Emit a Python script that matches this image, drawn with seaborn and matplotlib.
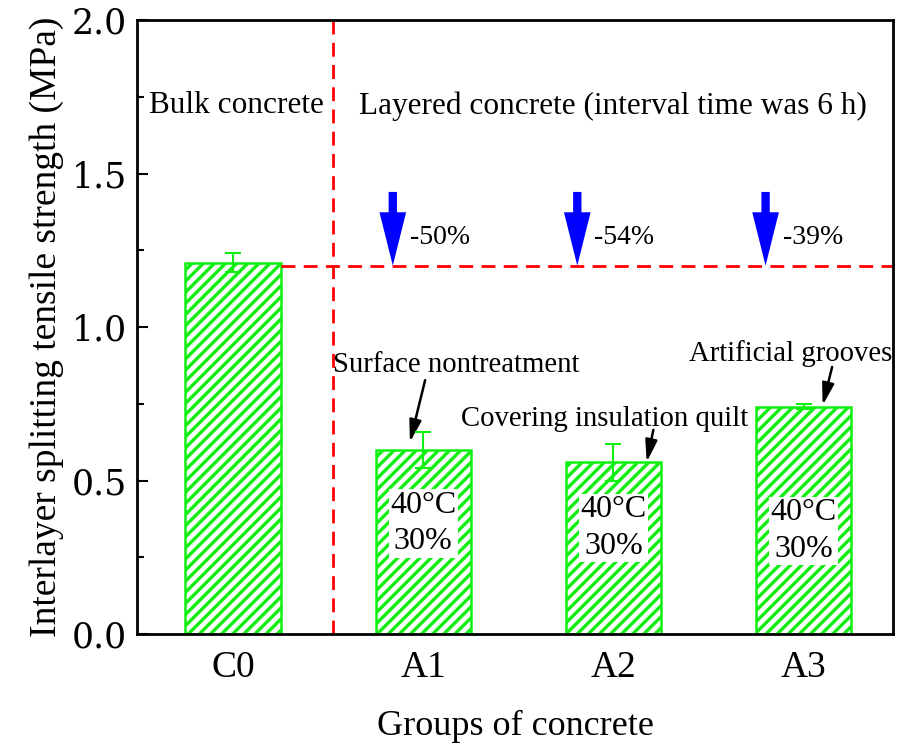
import matplotlib
matplotlib.use("Agg")
import matplotlib.pyplot as plt
import seaborn as sns
import pandas as pd
import numpy as np
from matplotlib.ticker import MultipleLocator

groups = ["C0", "A1", "A2", "A3"]
strength = [1.21, 0.60, 0.56, 0.74]
errors = [0.03, 0.058, 0.06, 0.008]
reductions = ["-50%", "-54%", "-39%"]
treatments = ["Surface nontreatment", "Covering insulation quilt", "Artificial grooves"]
condition = "40\u00b0C\n30%"
ref_value = 1.20

sns.set_theme(style="white")
plt.rcParams['font.family'] = ['Liberation Serif', 'DejaVu Serif']
plt.rcParams['text.color'] = 'black'
plt.rcParams['axes.labelcolor'] = 'black'
plt.rcParams['xtick.color'] = 'black'
plt.rcParams['ytick.color'] = 'black'
green = '#11ee11'
plt.rcParams['hatch.linewidth'] = 2.4
plt.rcParams['hatch.color'] = green

df = pd.DataFrame({"group": groups, "strength": strength})

fig = plt.figure(figsize=(8.98, 7.49), dpi=100)
ax = fig.add_axes([137/898, 1-634/749, (893-137)/898, (634-20)/749])

sns.barplot(data=df, x="group", y="strength", ax=ax, color="white", width=0.5,
            errorbar=None, edgecolor=green, linewidth=1.8)
for p in ax.patches:
    p.set_hatch('///')
    p.set_facecolor('white')
    p.set_edgecolor(green)

xs = np.arange(len(groups))
ax.errorbar(xs, strength, yerr=errors, fmt='none', ecolor=green, elinewidth=1.5,
            capsize=6, capthick=1.5, zorder=5)

ax.set_xlim(-0.505, 3.47)
ax.set_ylim(0, 2.0)

# reference lines
ax.axvline(0.525, color='red', ls=(0, (5, 3)), lw=2, zorder=1)
ax.plot([0.25, 3.47], [ref_value, ref_value], color='red', ls=(0, (5, 3)), lw=2, zorder=1)

# region labels
ax.text(-0.44, 1.72, "Bulk concrete", fontsize=22.5, va='center', ha='left')
ax.text(2.0, 1.72, "Layered concrete (interval time was 6 h)", fontsize=22.5, va='center', ha='center')

# reduction arrows
arrow_x = [0.84, 1.81, 2.80]
for xa, lab in zip(arrow_x, reductions):
    ax.annotate("", xy=(xa, ref_value), xytext=(xa, 1.44),
                arrowprops=dict(arrowstyle='simple,head_length=3.2,head_width=1.6,tail_width=0.5',
                                color='blue', lw=0, shrinkA=0, shrinkB=0))
    ax.text(xa + 0.09, 1.29, lab, fontsize=20, ha='left', va='center')

# treatment annotations
ann_text = [(0.525, 0.876, 'left'), (1.2, 0.70, 'left'), (2.40, 0.915, 'left')]
ann_arrow = [((1.01, 0.827), (0.93, 0.625)),
             ((2.21, 0.665), (2.175, 0.56)),
             ((3.15, 0.87), (3.10, 0.745))]
for lab, (tx, ty, ha), (start, end) in zip(treatments, ann_text, ann_arrow):
    ax.text(tx, ty, lab, fontsize=20.7, ha=ha, va='center')
    ax.annotate("", xy=end, xytext=start,
                arrowprops=dict(arrowstyle='-|>,head_width=0.3,head_length=1.1',
                                color='black', lw=1.8, shrinkA=0, shrinkB=0))

# condition labels
cond_y = [0.36, 0.345, 0.335]
for xi, cy in zip(xs[1:], cond_y):
    ax.text(xi, cy, condition, fontsize=23, ha='center', va='center', linespacing=1.35,
            bbox=dict(facecolor='white', edgecolor='none', pad=1))

ax.set_xlabel("Groups of concrete", fontsize=26, labelpad=18)
ax.set_ylabel("Interlayer splitting tensile strength (MPa)", fontsize=27, labelpad=6)

ax.yaxis.set_major_locator(MultipleLocator(0.5))
ax.yaxis.set_minor_locator(MultipleLocator(0.25))
ax.tick_params(axis='y', which='major', direction='in', length=8, width=1.5, left=True, pad=7)
ax.tick_params(axis='y', which='minor', direction='in', length=5, width=1.5, left=True)
ax.tick_params(axis='x', length=0, pad=12)
for lab in ax.get_yticklabels():
    lab.set_fontfamily('DejaVu Serif')
    lab.set_fontsize(25)
for lab in ax.get_xticklabels():
    lab.set_fontsize(27)
for s in ax.spines.values():
    s.set_color('black')
    s.set_linewidth(2)

fig.savefig("out.png", dpi=100)
